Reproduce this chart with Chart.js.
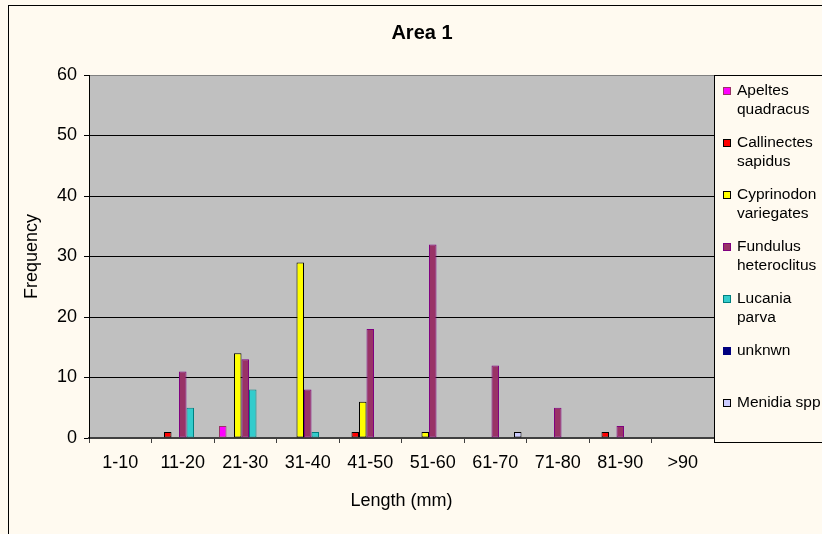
<!DOCTYPE html>
<html>
<head>
<meta charset="utf-8">
<script src="https://cdn.jsdelivr.net/npm/chart.js@4.4.1/dist/chart.umd.min.js"></script>
<style>
  html, body { margin: 0; padding: 0; background: #FFFAF0; }
  canvas { display: block; }
</style>
</head>
<body>
<canvas id="chart" width="822" height="534"></canvas>
<script>
// Length-frequency counts per species, Area 1
const chartTitle = 'Area 1';
const xAxisTitle = 'Length (mm)';
const yAxisTitle = 'Frequency';
const lengthClasses = ['1-10', '11-20', '21-30', '31-40', '41-50', '51-60', '61-70', '71-80', '81-90', '>90'];
const frequencyTicks = [0, 10, 20, 30, 40, 50, 60];

const speciesNames = [
  'Apeltes quadracus',
  'Callinectes sapidus',
  'Cyprinodon variegates',
  'Fundulus heteroclitus',
  'Lucania parva',
  'unknwn',
  'Menidia spp'
];
const apeltesQuadracus     = [0, 0, 2, 0, 0, 0, 0, 0, 0, 0];
const callinectesSapidus   = [0, 1, 0, 0, 1, 0, 0, 0, 1, 0];
const cyprinodonVariegates = [0, 0, 14, 29, 6, 1, 0, 0, 0, 0];
const fundulusHeteroclitus = [0, 11, 13, 8, 18, 32, 12, 5, 2, 0];
const lucaniaParva         = [0, 5, 8, 1, 0, 0, 0, 0, 0, 0];
const unknwnCounts         = [0, 0, 0, 0, 0, 0, 0, 0, 0, 0];
const menidiaSpp           = [0, 0, 0, 0, 0, 0, 1, 0, 0, 0];

const seriesValues = [apeltesQuadracus, callinectesSapidus, cyprinodonVariegates,
  fundulusHeteroclitus, lucaniaParva, unknwnCounts, menidiaSpp];
const fillColors   = ['#FF00FF', '#FF0000', '#FFFF00', '#993366', '#33CCCC', '#000080', '#CCCCFF'];
const strokeColors = ['#993366', '#000000', '#000000', '#800080', '#008080', '#000080', '#000000'];

const FONT = "'Liberation Sans', Arial, sans-serif";
const PAGE_BG = '#FFFAF0';
const PLOT_BG = '#C0C0C0';

// Page frame, grey plot area, title and the wrapped legend panel
const decorations = {
  id: 'decorations',
  beforeDraw(chart) {
    const { ctx, chartArea } = chart;
    ctx.save();
    ctx.fillStyle = PAGE_BG;
    ctx.fillRect(0, 0, chart.width, chart.height);
    ctx.strokeStyle = '#000';
    ctx.lineWidth = 1;
    ctx.strokeRect(8.5, 5.5, chart.width + 50, chart.height + 50);
    ctx.fillStyle = PLOT_BG;
    ctx.fillRect(chartArea.left, chartArea.top, chartArea.right - chartArea.left, chartArea.bottom - chartArea.top);
    ctx.restore();
  },
  afterDraw(chart) {
    const { ctx, chartArea } = chart;
    ctx.save();
    // title
    ctx.fillStyle = '#000';
    ctx.font = 'bold 20px ' + FONT;
    ctx.textAlign = 'center';
    ctx.textBaseline = 'middle';
    ctx.fillText(chartTitle, 422, 33);

    // legend panel
    const boxLeft = chartArea.right;
    const boxTop = chartArea.top;
    const boxBottom = 442;
    ctx.fillStyle = PAGE_BG;
    ctx.fillRect(boxLeft, boxTop, chart.width - boxLeft + 10, boxBottom - boxTop);
    ctx.strokeStyle = '#000';
    ctx.lineWidth = 1;
    ctx.strokeRect(boxLeft + 0.5, boxTop + 0.5, chart.width - boxLeft + 20, boxBottom - boxTop);

    ctx.font = '15.5px ' + FONT;
    ctx.textAlign = 'left';
    ctx.textBaseline = 'middle';
    const maxTextWidth = 92;
    chart.data.datasets.forEach((ds, i) => {
      const words = ds.label.split(' ');
      const lines = [];
      let line = '';
      words.forEach(w => {
        const test = line ? line + ' ' + w : w;
        if (line && ctx.measureText(test).width > maxTextWidth) {
          lines.push(line);
          line = w;
        } else {
          line = test;
        }
      });
      if (line) lines.push(line);

      const y0 = boxTop + 16 + i * 52;
      ctx.fillStyle = ds.backgroundColor;
      ctx.fillRect(723, y0 - 4, 8, 8);
      ctx.strokeStyle = ds.borderColor;
      ctx.strokeRect(723.5, y0 - 3.5, 7, 7);
      ctx.fillStyle = '#000';
      lines.forEach((t, j) => ctx.fillText(t, 737, y0 + j * 19));
    });
    ctx.restore();
  }
};

new Chart(document.getElementById('chart'), {
  type: 'bar',
  data: {
    labels: lengthClasses,
    datasets: speciesNames.map((name, i) => ({
      label: name,
      data: seriesValues[i],
      backgroundColor: fillColors[i],
      borderColor: strokeColors[i],
      borderWidth: 1,
      borderSkipped: false,
      barPercentage: 1.0,
      categoryPercentage: 0.84
    }))
  },
  options: {
    responsive: false,
    animation: false,
    devicePixelRatio: 1,
    layout: { padding: { top: 75, right: 108, left: 0, bottom: 0 } },
    plugins: {
      legend: { display: false },
      title: { display: false },
      tooltip: { enabled: false }
    },
    scales: {
      x: {
        afterFit(scale) { scale.height = 96; },
        grid: {
          drawOnChartArea: false,
          drawTicks: true,
          tickLength: 5,
          tickColor: '#404040',
          tickWidth: 1
        },
        border: { display: true, color: '#404040', width: 2 },
        ticks: { color: '#000', padding: 9, font: { family: FONT, size: 18 }, maxRotation: 0, autoSkip: false },
        title: { display: true, text: xAxisTitle, color: '#000', font: { family: FONT, size: 18 }, padding: { top: 0, bottom: 22 } }
      },
      y: {
        min: frequencyTicks[0],
        max: frequencyTicks[frequencyTicks.length - 1],
        afterFit(scale) { scale.width = 89; },
        afterBuildTicks(scale) { scale.ticks = frequencyTicks.map(v => ({ value: v })); },
        grid: {
          drawOnChartArea: true,
          drawTicks: true,
          tickLength: 5,
          tickColor: '#000',
          color: ctx => (ctx.tick && ctx.tick.value === frequencyTicks[frequencyTicks.length - 1]) ? '#808080' : '#000',
          lineWidth: 1
        },
        border: { display: true, color: '#000', width: 1 },
        ticks: { color: '#000', padding: 7, font: { family: FONT, size: 18 } },
        title: { display: true, text: yAxisTitle, color: '#000', font: { family: FONT, size: 18 }, padding: { top: 21, bottom: 0 } }
      }
    }
  },
  plugins: [decorations]
});
</script>
</body>
</html>
